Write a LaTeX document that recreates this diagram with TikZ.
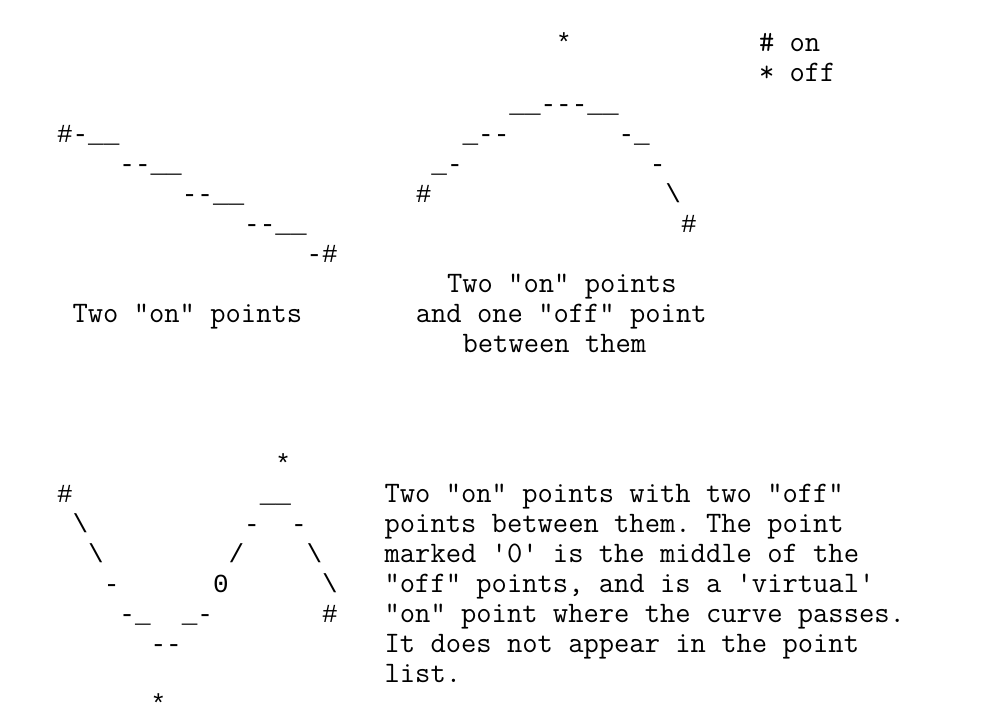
\documentclass[tikz,border=0pt]{standalone}
\usepackage{fontspec}
\newfontfamily\figfont{Liberation Mono}
\frenchspacing
\tikzset{
  base/.style={inner sep=0pt, outer sep=0pt, anchor=base west, text=black},
  fig/.style={base, font=\figfont\fontsize{19.5}{22.5}\selectfont},
  txt/.style={base, font=\ttfamily\fontsize{22.29}{26}\selectfont\addfontfeatures{FakeBold=1.6}},
}
\newcommand\putat[5]{\node[#4] (#1) at ({57+15.6*#2},{52+30*#3}) {#5};}
\begin{document}
\begin{tikzpicture}[x=0.75pt,y=-0.75pt]
\fill[white] (0,0) rectangle (1002,724);
\useasboundingbox (0,0) rectangle (1002,724);
% legend
\putat{legOn}{45}{0}{txt}{\# on}
\putat{legOff}{45}{1}{txt}{* off}
% figure 1: two on points
\putat{a1}{0}{3}{fig}{\#-\_\_}
\putat{a2}{4}{4}{fig}{--\_\_}
\putat{a3}{8}{5}{fig}{--\_\_}
\putat{a4}{12}{6}{fig}{--\_\_}
\putat{a5}{16}{7}{fig}{-\#}
\putat{capA}{1}{9}{txt}{Two "on" points}
% figure 2: one off point
\putat{b0}{32}{0}{fig}{*}
\putat{b1}{29}{2}{fig}{\_\_---\_\_}
\putat{b2}{26}{3}{fig}{\_--}
\putat{b3}{36}{3}{fig}{-\_}
\putat{b4}{24}{4}{fig}{\_-}
\putat{b5}{38}{4}{fig}{-}
\putat{b6}{23}{5}{fig}{\#}
\putat{b7}{39}{5}{fig}{\textbackslash}
\putat{b8}{40}{6}{fig}{\#}
\putat{capB1}{25}{8}{txt}{Two "on" points}
\putat{capB2}{23}{9}{txt}{and one "off" point}
\putat{capB3}{26}{10}{txt}{between them}
% figure 3: two off points
\putat{c0}{14}{14}{fig}{*}
\putat{c1}{0}{15}{fig}{\#}
\putat{c2}{13}{15}{fig}{\_\_}
\putat{c3}{1}{16}{fig}{\textbackslash}
\putat{c4}{12}{16}{fig}{-}
\putat{c5}{15}{16}{fig}{-}
\putat{c6}{2}{17}{fig}{\textbackslash}
\putat{c7}{11}{17}{fig}{/}
\putat{c8}{16}{17}{fig}{\textbackslash}
\putat{c9}{3}{18}{fig}{-}
\putat{c10}{10}{18}{fig}{0}
\putat{c11}{17}{18}{fig}{\textbackslash}
\putat{c12}{4}{19}{fig}{-\_}
\putat{c13}{8}{19}{fig}{\_-}
\putat{c14}{17}{19}{fig}{\#}
\putat{c15}{6}{20}{fig}{--}
\putat{c16}{6}{22}{fig}{*}
% description
\putat{d1}{21}{15}{txt}{Two "on" points with two "off"}
\putat{d2}{21}{16}{txt}{points between them. The point}
\putat{d3}{21}{17}{txt}{marked '0' is the middle of the}
\putat{d4}{21}{18}{txt}{"off" points, and is a 'virtual'}
\putat{d5}{21}{19}{txt}{"on" point where the curve passes.}
\putat{d6}{21}{20}{txt}{It does not appear in the point}
\putat{d7}{21}{21}{txt}{list.}
\end{tikzpicture}
\end{document}
